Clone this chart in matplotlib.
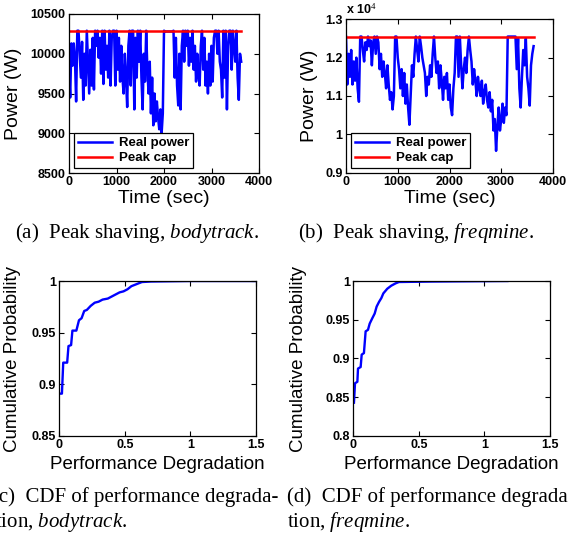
import numpy as np
import matplotlib
matplotlib.use("Agg")
import matplotlib.pyplot as plt
from matplotlib.ticker import FuncFormatter

plt.rcParams['font.family'] = ['Liberation Sans', 'DejaVu Sans']
plt.rcParams['mathtext.fontset'] = 'custom'
plt.rcParams['mathtext.it'] = 'Liberation Serif:italic'
plt.rcParams['mathtext.rm'] = 'Liberation Serif'

# sample interval of the power traces (sec)
dt = 25

# (a) bodytrack, real power (W)
power_a = [
    9800, 9450, 10130, 9850, 10130, 9950, 9400, 10290, 10290, 10000,
    9700, 10150, 9420, 10000, 9600, 10290, 9900, 9500, 10050, 9600,
    10200, 9550, 10290, 10100, 10290, 9950, 10200, 9750, 10290, 9620,
    10290, 9800, 10100, 9700, 10290, 9600, 10200, 10290, 10290, 9600,
    10290, 9800, 10200, 9650, 10100, 9700, 9500, 10000, 9700, 9330,
    10100, 10290, 9600, 10290, 10290, 9300, 10200, 9700, 10290, 9900,
    10290, 9700, 9300, 10000, 9650, 10290, 9800, 9500, 9900, 9250,
    9700, 9100, 9500, 9150, 9400, 9200, 9050, 9300, 9000, 9250,
    10290, 10280, 10280, 10280, 10280, 10280, 10280, 10280, 10290, 9700,
    10200, 9600, 9350, 10000, 9300, 10100, 10290, 9900, 10290, 10100,
    10290, 9850, 10200, 9900, 10290, 9800, 10100, 9650, 10000, 9750,
    9600, 10100, 10290, 9800, 10200, 9600, 9900, 9500, 10000, 9600,
    10100, 9650, 10200, 10290, 10290, 10000, 10290, 9900, 9800, 9450,
    10290, 9700, 10290, 9300, 10100, 10290, 10290, 9800, 10290, 10100,
    9900, 10290, 9700, 9420, 10000, 9900,
]
cap_a = 10290

# (b) freqmine, real power (W)
power_b = [
    12550, 11300, 12100, 11500, 12200, 11300, 11900, 11400, 12000, 11200,
    10850, 12550, 12550, 12200, 11900, 12400, 12200, 12550, 12300, 12450,
    11800, 12400, 12550, 12100, 12550, 12400, 11700, 12100, 11500, 11900,
    11600, 11200, 11800, 11300, 10900, 11100, 10650, 11000, 12550, 12550,
    12000, 11700, 11200, 11700, 11000, 11600, 10800, 11300, 10700, 10250,
    11000, 11800, 11500, 12100, 12550, 12200, 11900, 12550, 12300, 12000,
    11800, 11600, 11000, 11500, 11300, 11800, 11500, 12100, 12550, 12000,
    11600, 11900, 11200, 11800, 11400, 10900, 11500, 11200, 11600, 10900,
    11300, 10700, 10500, 11200, 11600, 12550, 12550, 11500, 12550, 11800,
    11200, 11700, 12000, 11600, 12200, 12550, 12200, 11900, 11300, 11700,
    11400, 11000, 11500, 11200, 11000, 11400, 10800, 11100, 11300, 10900,
    10700, 11100, 10600, 10900, 10100, 10400, 9570, 10200, 10700, 10100,
    10400, 10800, 10300, 10700, 10500, 12550, 12550, 12550, 12550, 12550,
    12550, 12550, 11700, 12500, 11200, 10700, 11500, 12200, 11800, 12500,
    11500, 11200, 10750, 11800, 12100, 12300,
]
cap_b = 12550

# (c) CDF of performance degradation, bodytrack
deg_c = [0, 0.02, 0.03, 0.06, 0.07, 0.09, 0.10, 0.13, 0.15, 0.17, 0.19, 0.21,
         0.24, 0.27, 0.30, 0.33, 0.37, 0.40, 0.43, 0.46, 0.49, 0.52, 0.55,
         0.59, 0.63, 0.70, 1.0, 1.5]
cdf_c = [0.891, 0.891, 0.921, 0.921, 0.937, 0.938, 0.952, 0.952, 0.962, 0.964,
         0.971, 0.972, 0.976, 0.979, 0.980, 0.982, 0.983, 0.985, 0.987, 0.989,
         0.990, 0.992, 0.995, 0.997, 0.999, 0.9995, 1.0, 1.0]

# (d) CDF of performance degradation, freqmine
deg_d = [0.005, 0.013, 0.031, 0.036, 0.056, 0.064, 0.081, 0.094, 0.112, 0.125,
         0.145, 0.163, 0.178, 0.196, 0.214, 0.229, 0.259, 0.29, 0.323, 0.348,
         0.6, 1.175]
cdf_d = [0.843, 0.868, 0.870, 0.887, 0.889, 0.905, 0.907, 0.935, 0.937, 0.945,
         0.952, 0.958, 0.967, 0.973, 0.978, 0.984, 0.990, 0.994, 0.997, 0.9987,
         0.9993, 1.0]

fig = plt.figure(figsize=(5.68, 5.37), dpi=100)
W, H = 568, 537


def add_axes(left, top, right, bottom):
    return fig.add_axes([left / W, 1 - bottom / H, (right - left) / W, (bottom - top) / H])


def matlab_style(ax):
    ax.tick_params(direction='in', length=3.5, width=0.8, top=True, right=True,
                   labelsize=9, pad=2.5)
    for lab in ax.get_xticklabels() + ax.get_yticklabels():
        lab.set_fontweight('bold')
    for s in ax.spines.values():
        s.set_linewidth(0.9)


def num(v, pos=None):
    return '%g' % v


def power_legend(ax):
    leg = ax.legend(loc='lower left', bbox_to_anchor=(0.025, 0.03), borderaxespad=0,
                    fancybox=False, edgecolor='black', framealpha=1,
                    prop={'weight': 'bold', 'size': 9.5}, handlelength=2.6,
                    borderpad=0.3, labelspacing=0.2, handletextpad=0.5)
    leg.get_frame().set_linewidth(0.9)


# ---- (a)
ax = add_axes(69, 14, 259, 173)
t = np.arange(len(power_a)) * dt
ax.plot(t, power_a, color='blue', lw=1.8, label='Real power')
ax.plot([0, t[-1]], [cap_a, cap_a], color='red', lw=1.8, label='Peak cap')
ax.set_xlim(0, 4000)
ax.set_ylim(8500, 10500)
ax.set_xticks([0, 1000, 2000, 3000, 4000])
ax.set_yticks([8500, 9000, 9500, 10000, 10500])
matlab_style(ax)
ax.set_xlabel('Time (sec)', fontsize=14)
ax.set_ylabel('Power (W)', fontsize=14)
ax.xaxis.set_label_coords(0.5, -0.105)
ax.yaxis.set_label_coords(-0.245, 0.5)
power_legend(ax)

# ---- (b)
ax = add_axes(346, 19.3, 553, 172.7)
t = np.arange(len(power_b)) * dt
ax.plot(t, power_b, color='blue', lw=1.8, label='Real power')
ax.plot([0, t[-1]], [cap_b, cap_b], color='red', lw=1.8, label='Peak cap')
ax.set_xlim(0, 4000)
ax.set_ylim(9000, 13000)
ax.set_xticks([0, 1000, 2000, 3000, 4000])
ax.set_yticks([9000, 10000, 11000, 12000, 13000])
ax.yaxis.set_major_formatter(FuncFormatter(lambda v, p: '%g' % (v / 1e4)))
matlab_style(ax)
ax.text(0.0, 1.015, r'x 10$^{4}$', transform=ax.transAxes, fontsize=9,
        fontweight='bold', ha='left', va='bottom')
ax.set_xlabel('Time (sec)', fontsize=14)
ax.set_ylabel('Power (W)', fontsize=14)
ax.xaxis.set_label_coords(0.5, -0.11)
ax.yaxis.set_label_coords(-0.135, 0.5)
power_legend(ax)

# ---- (c)
ax = add_axes(59.3, 281, 256, 436)
ax.plot(deg_c, cdf_c, color='blue', lw=1.7)
ax.set_xlim(0, 1.5)
ax.set_ylim(0.85, 1.0)
ax.set_xticks([0, 0.5, 1, 1.5])
ax.set_yticks([0.85, 0.9, 0.95, 1.0])
ax.xaxis.set_major_formatter(FuncFormatter(num))
ax.yaxis.set_major_formatter(FuncFormatter(num))
matlab_style(ax)
ax.set_xlabel('Performance Degradation', fontsize=13.5)
ax.set_ylabel('Cumulative Probability', fontsize=13.5)
ax.xaxis.set_label_coords(0.5, -0.13)
ax.yaxis.set_label_coords(-0.195, 0.5)

# ---- (d)
ax = add_axes(353.3, 281, 550, 436)
ax.plot(deg_d, cdf_d, color='blue', lw=1.7)
ax.set_xlim(0, 1.5)
ax.set_ylim(0.8, 1.0)
ax.set_xticks([0, 0.5, 1, 1.5])
ax.set_yticks([0.8, 0.85, 0.9, 0.95, 1.0])
ax.xaxis.set_major_formatter(FuncFormatter(num))
ax.yaxis.set_major_formatter(FuncFormatter(num))
matlab_style(ax)
ax.set_xlabel('Performance Degradation', fontsize=13.5)
ax.set_ylabel('Cumulative Probability', fontsize=13.5)
ax.xaxis.set_label_coords(0.5, -0.13)
ax.yaxis.set_label_coords(-0.235, 0.5)

# ---- captions (serif, as in the paper; cropped at the edges like the original)
serif = ['Liberation Serif', 'DejaVu Serif']
cap_size = 15


def caption(x, y, parts):
    # parts: list of (text, italic)
    txt = ''.join(r'$\it{%s}$' % p.replace(' ', r'\ ') if it else p for p, it in parts)
    fig.text(x / W, 1 - y / H, txt, family=serif, fontsize=cap_size,
             ha='left', va='center')


caption(15, 233, [("(a)  Peak shaving, ", False), ("bodytrack", True), (".", False)])
caption(298, 233, [("(b)  Peak shaving, ", False), ("freqmine", True), (".", False)])
caption(-8, 497, [("(c)  CDF of performance degrada-", False)])
caption(-5, 522, [("tion, ", False), ("bodytrack", True), (".", False)])
caption(287, 497, [("(d)  CDF of performance degrada", False)])
caption(287, 522, [("tion, ", False), ("freqmine", True), (".", False)])

fig.savefig('out.png', dpi=100)
